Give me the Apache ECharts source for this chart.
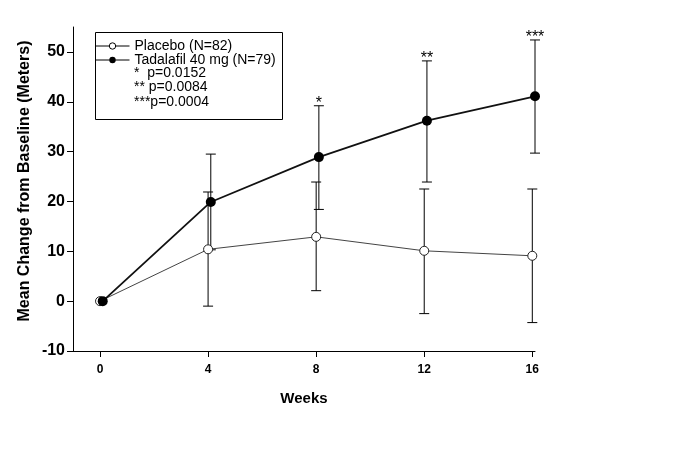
<!DOCTYPE html>
<html><head><meta charset="utf-8">
<script src="https://cdn.jsdelivr.net/npm/echarts@6/dist/echarts.min.js"></script>
<style>html,body{margin:0;padding:0;background:#fff}#c{width:696px;height:468px}</style>
</head><body><div id="c"></div>
<script>
const weeks = [0, 4, 8, 12, 16];
const placeboMean = [0, 10.4, 12.9, 10.1, 9.1];
const placeboLow  = [null, -1.0, 2.1, -2.5, -4.3];
const placeboHigh = [null, 21.9, 23.9, 22.5, 22.5];
const tadaMean = [0, 19.9, 28.9, 36.2, 41.1];
const tadaLow  = [null, 10.3, 18.4, 23.9, 29.7];
const tadaHigh = [null, 29.5, 39.2, 48.2, 52.4];
const stars = ['', '', '*', '**', '***'];
const xTicks = [0, 4, 8, 12, 16];
const yTicks = [-10, 0, 10, 20, 30, 40, 50];
const pNotes = ['*  p=0.0152', '** p=0.0084', '***p=0.0004'];
const seriesNames = ['Placebo (N=82)', 'Tadalafil 40 mg (N=79)'];

const SHIFT = 0.1; // small horizontal dodge of the Tadalafil marks
const FONT = 'Liberation Sans, Arial, sans-serif';

function errData(lo, hi, dx) {
  const out = [];
  weeks.forEach((w, i) => { if (lo[i] != null) out.push([w + dx, lo[i], hi[i]]); });
  return out;
}
function renderBar(params, api) {
  const x = api.value(0), lo = api.value(1), hi = api.value(2);
  const a = api.coord([x, lo]), b = api.coord([x, hi]);
  const hw = 5;
  const s = {stroke: '#000', lineWidth: 1};
  return {type: 'group', children: [
    {type: 'line', shape: {x1: a[0], y1: a[1], x2: b[0], y2: b[1]}, style: s},
    {type: 'line', shape: {x1: a[0] - hw, y1: a[1], x2: a[0] + hw, y2: a[1]}, style: s},
    {type: 'line', shape: {x1: b[0] - hw, y1: b[1], x2: b[0] + hw, y2: b[1]}, style: s}
  ]};
}
const tadaErr = errData(tadaLow, tadaHigh, SHIFT);
const starsFor = stars.filter((s, i) => tadaLow[i] != null);
function renderStars(params, api) {
  const x = api.value(0), hi = api.value(2);
  const b = api.coord([x, hi]);
  return {type: 'text', style: {text: starsFor[params.dataIndex], x: b[0], y: b[1] - 2, align: 'center', verticalAlign: 'middle',
          font: '16px ' + FONT, fill: '#000'}};
}

const chart = echarts.init(document.getElementById('c'), null, {renderer: 'canvas'});
chart.setOption({
  animation: false,
  backgroundColor: '#fff',
  grid: {left: 73, right: 161, top: 27, bottom: 117},
  xAxis: {
    type: 'value', min: -1, max: 16.1,
    axisLine: {onZero: false, lineStyle: {color: '#000', width: 1}},
    axisTick: {show: true, length: 6, customValues: xTicks, lineStyle: {color: '#000'}},
    axisLabel: {customValues: xTicks, margin: 13, color: '#000', fontWeight: 'bold', fontSize: 12, fontFamily: FONT},
    splitLine: {show: false},
    name: 'Weeks', nameLocation: 'middle', nameGap: 40,
    nameTextStyle: {color: '#000', fontWeight: 'bold', fontSize: 15, fontFamily: FONT}
  },
  yAxis: {
    type: 'value', min: -10, max: 55,
    axisLine: {show: true, onZero: false, lineStyle: {color: '#000', width: 1}},
    axisTick: {show: true, length: 6, customValues: yTicks, lineStyle: {color: '#000'}},
    axisLabel: {customValues: yTicks, margin: 8, color: '#000', fontWeight: 'bold', fontSize: 16, fontFamily: FONT},
    splitLine: {show: false}
  },
  legend: {
    orient: 'vertical', left: 95, top: 39, padding: 0, itemGap: 0, itemWidth: 34, itemHeight: 8,
    textStyle: {fontSize: 14, lineHeight: 14, color: '#000', fontFamily: FONT},
    data: [
      {name: seriesNames[0], itemStyle: {color: '#fff', borderColor: '#000', borderWidth: 1}, lineStyle: {color: '#000', width: 1}},
      {name: seriesNames[1], itemStyle: {color: '#000'}, lineStyle: {color: '#000', width: 1}}
    ]
  },
  graphic: [
    {type: 'rect', left: 93, top: 30, shape: {width: 187, height: 87}, style: {fill: 'none', stroke: '#000', lineWidth: 1}, z: 0},
    ...pNotes.map((t, i) => ({type: 'text', x: 134, y: 73 + i * 14.5,
      style: {text: t, font: '14px ' + FONT, fill: '#000', verticalAlign: 'middle'}})),
    {type: 'text', x: 25, y: 181, rotation: Math.PI / 2,
     style: {text: 'Mean Change from Baseline (Meters)', font: 'bold 16px ' + FONT, fill: '#000', align: 'center', verticalAlign: 'middle'}}
  ],
  series: [
    {type: 'custom', name: 'pErr', renderItem: renderBar, data: errData(placeboLow, placeboHigh, 0), z: 2, silent: true},
    {type: 'custom', name: 'tErr', renderItem: renderBar, data: tadaErr, z: 2, silent: true},
    {type: 'custom', name: 'stars', renderItem: renderStars, data: tadaErr, z: 2, silent: true},
    {type: 'line', name: seriesNames[0], data: weeks.map((w, i) => [w, placeboMean[i]]),
     symbol: 'circle', symbolSize: 9, lineStyle: {color: '#444', width: 1},
     itemStyle: {color: '#fff', borderColor: '#222', borderWidth: 1}, z: 3},
    {type: 'line', name: seriesNames[1], data: weeks.map((w, i) => [w + SHIFT, tadaMean[i]]),
     symbol: 'circle', symbolSize: 10, lineStyle: {color: '#111', width: 1.8},
     itemStyle: {color: '#000'}, z: 4}
  ]
});
</script></body></html>
